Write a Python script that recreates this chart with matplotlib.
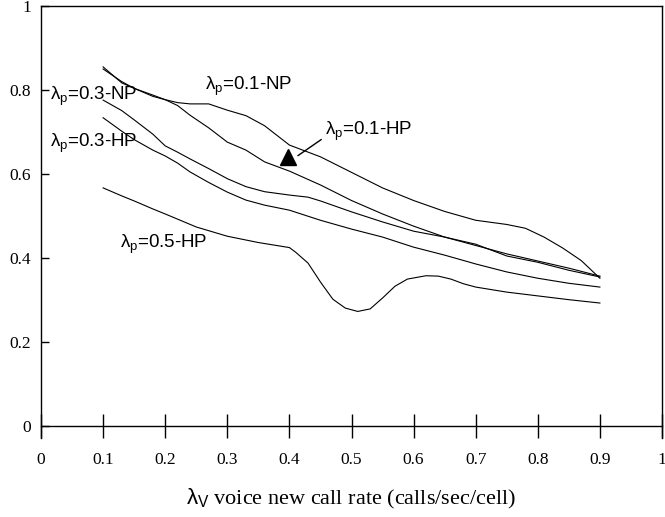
import matplotlib
matplotlib.use("Agg")
import matplotlib.pyplot as plt

plt.rcParams["mathtext.fontset"] = "custom"
plt.rcParams["mathtext.rm"] = "Liberation Sans"
plt.rcParams["mathtext.it"] = "Liberation Sans"

# lambda_p = 0.1 - NP (top curve with the flat step)
x_a = [0.10, 0.13, 0.15, 0.18, 0.20, 0.22, 0.24, 0.27, 0.30, 0.33, 0.36, 0.40, 0.45,
       0.50, 0.55, 0.60, 0.65, 0.70, 0.75, 0.78, 0.81, 0.84, 0.87, 0.90]
y_a = [0.855, 0.817, 0.804, 0.785, 0.777, 0.770, 0.767, 0.767, 0.752, 0.739, 0.715, 0.669, 0.641,
       0.604, 0.567, 0.537, 0.511, 0.490, 0.480, 0.471, 0.450, 0.424, 0.394, 0.352]

# lambda_p = 0.1 - HP
x_b = [0.10, 0.13, 0.15, 0.18, 0.20, 0.22, 0.24, 0.27, 0.30, 0.33, 0.36, 0.40, 0.45,
       0.50, 0.55, 0.60, 0.65, 0.70, 0.75, 0.80, 0.85, 0.90]
y_b = [0.850, 0.820, 0.804, 0.788, 0.777, 0.763, 0.740, 0.710, 0.676, 0.657, 0.629, 0.607, 0.574,
       0.537, 0.505, 0.476, 0.450, 0.430, 0.410, 0.393, 0.376, 0.357]

# lambda_p = 0.3 - NP
x_c = [0.10, 0.13, 0.15, 0.18, 0.20, 0.22, 0.24, 0.27, 0.30, 0.33, 0.36, 0.40, 0.43, 0.45,
       0.50, 0.55, 0.60, 0.65, 0.70, 0.75, 0.80, 0.85, 0.90]
y_c = [0.776, 0.751, 0.729, 0.695, 0.667, 0.652, 0.636, 0.613, 0.589, 0.570, 0.558, 0.550, 0.545, 0.536,
       0.510, 0.486, 0.464, 0.450, 0.433, 0.405, 0.390, 0.371, 0.355]

# lambda_p = 0.3 - HP
x_d = [0.10, 0.13, 0.15, 0.18, 0.20, 0.22, 0.24, 0.27, 0.30, 0.33, 0.36, 0.40, 0.45,
       0.50, 0.55, 0.60, 0.65, 0.70, 0.75, 0.80, 0.85, 0.90]
y_d = [0.734, 0.702, 0.682, 0.657, 0.643, 0.626, 0.605, 0.580, 0.557, 0.538, 0.526, 0.514, 0.490,
       0.469, 0.450, 0.426, 0.407, 0.386, 0.367, 0.352, 0.340, 0.331]

# lambda_p = 0.5 - HP (curve with the dip)
x_e = [0.10, 0.13, 0.15, 0.18, 0.20, 0.25, 0.30, 0.35, 0.40, 0.41, 0.43, 0.45, 0.47, 0.49,
       0.51, 0.53, 0.55, 0.57, 0.59, 0.62, 0.64, 0.66, 0.68, 0.70, 0.75, 0.80, 0.85, 0.90]
y_e = [0.567, 0.548, 0.536, 0.517, 0.505, 0.474, 0.452, 0.437, 0.425, 0.414, 0.388, 0.343, 0.302, 0.281,
       0.273, 0.279, 0.305, 0.333, 0.350, 0.358, 0.357, 0.350, 0.339, 0.331, 0.319, 0.310, 0.301, 0.293]

x_ticks = [0, 0.1, 0.2, 0.3, 0.4, 0.5, 0.6, 0.7, 0.8, 0.9, 1]
x_labels = ["0", "0.1", "0.2", "0.3", "0.4", "0.5", "0.6", "0.7", "0.8", "0.9", "1"]
y_ticks = [0, 0.2, 0.4, 0.6, 0.8, 1]
y_labels = ["0", "0.2", "0.4", "0.6", "0.8", "1"]

fig = plt.figure(figsize=(6.65, 5.17), dpi=100)
ax = fig.add_axes([0.0617, 0.153, 0.9338, 0.8354])

for xs, ys in [(x_a, y_a), (x_b, y_b), (x_c, y_c), (x_d, y_d), (x_e, y_e)]:
    ax.plot(xs, ys, color="black", lw=0.8)

ax.set_xlim(0, 1)
ax.set_ylim(-0.028, 1.0)

ax.spines["bottom"].set_position(("data", 0))
for s in ax.spines.values():
    s.set_linewidth(1.0)

ax.set_xticks(x_ticks)
ax.set_xticklabels(x_labels, family="Liberation Serif", fontsize=12.5)
ax.set_yticks(y_ticks)
ax.set_yticklabels(y_labels, family="Liberation Serif", fontsize=12.5)
ax.tick_params(axis="x", direction="inout", length=17, width=1.0, pad=10)
ax.tick_params(axis="y", direction="in", length=6, width=1.0, pad=7)

lab = dict(fontsize=13.5, family="Liberation Sans", va="baseline", ha="left")
ax.text(0.264, 0.801, r"$\lambda_{p}$=0.1-NP", **lab)
ax.text(0.0145, 0.777, r"$\lambda_{p}$=0.3-NP", **lab)
ax.text(0.0145, 0.665, r"$\lambda_{p}$=0.3-HP", **lab)
ax.text(0.457, 0.694, r"$\lambda_{p}$=0.1-HP", **lab)
ax.text(0.127, 0.423, r"$\lambda_{p}$=0.5-HP", **lab)

# arrow to the 0.1-HP curve
ax.annotate("", xy=(0.41, 0.64), xytext=(0.455, 0.686),
            arrowprops=dict(arrowstyle="-", color="black", lw=1.0))
ax.plot([0.398], [0.64], marker="^", ms=12, color="black")

ax.set_xlabel(r"$\lambda_{\mathrm{V}}$ voice new call rate (calls/sec/cell)",
              family="Liberation Serif", fontsize=16, labelpad=14)

fig.savefig("out.png", dpi=100)
